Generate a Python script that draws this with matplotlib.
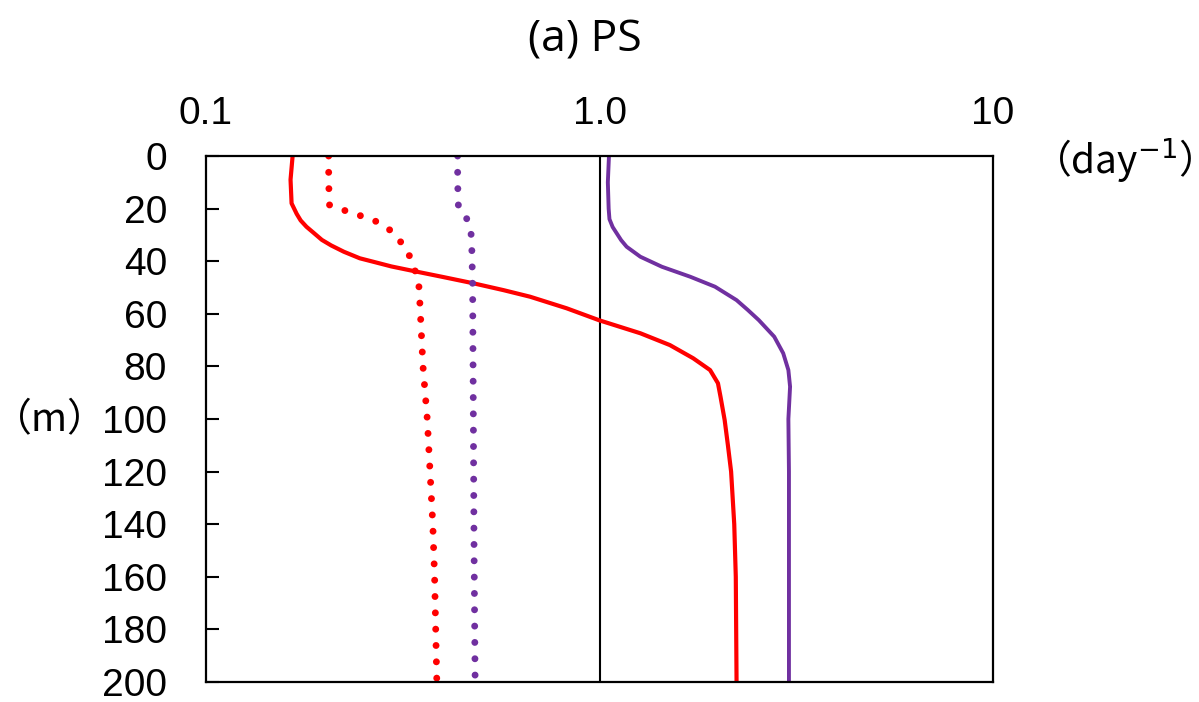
import matplotlib
matplotlib.use("Agg")
import matplotlib.pyplot as plt

# depth (m) and rate (day^-1) for each profile
red_solid_depth = [0, 9, 18, 22, 24.5, 26.9, 29, 31.9, 34, 36.4, 38.9, 40.2, 42, 43.7, 46, 48.4, 51, 53.5, 57.9,
                   62.5, 67.4, 71.9, 76.9, 81.4, 86.4, 91.5, 100.4, 110, 120, 140, 160, 200]
red_solid_rate = [0.166, 0.164, 0.165, 0.170, 0.174, 0.180, 0.187, 0.197, 0.208, 0.224, 0.246, 0.266, 0.296, 0.336, 0.400, 0.478,
                  0.570, 0.666, 0.825, 1.0, 1.27, 1.51, 1.73, 1.91, 2.00, 2.03, 2.08, 2.12, 2.16, 2.20, 2.22, 2.23]

purple_solid_depth = [0, 10, 20, 24, 27, 29.4, 32, 34.5, 38.3, 42.1, 45.9, 49.7, 54.8, 58.5, 62.4, 68.7, 75, 81.4, 87.7, 100, 120, 200]
purple_solid_rate = [1.057, 1.05, 1.055, 1.06, 1.08, 1.106, 1.135, 1.172, 1.27, 1.44, 1.70, 1.966, 2.23, 2.38, 2.54, 2.78,
                     2.93, 3.02, 3.05, 3.02, 3.03, 3.03]

red_dot_depth = [0, 10, 18.6, 20.8, 22.8, 25, 28.1, 32.8, 38, 43.7, 50, 80, 100, 120, 140, 160, 200]
red_dot_rate = [0.205, 0.205, 0.206, 0.226, 0.248, 0.272, 0.293, 0.313, 0.329, 0.340, 0.348, 0.356, 0.365, 0.371, 0.377, 0.381, 0.386]

purple_dot_depth = [0, 10, 19.3, 24.3, 30.5, 50, 100, 150, 200]
purple_dot_rate = [0.436, 0.436, 0.438, 0.462, 0.473, 0.476, 0.478, 0.480, 0.483]

xticks = [0.1, 1.0, 10]
xtick_labels = ["0.1", "1.0", "10"]
yticks = list(range(0, 201, 20))

RED = "#ff0000"
PURPLE = "#7030a0"

fig = plt.figure(figsize=(11.99, 7.02), dpi=100)
ax = fig.add_axes([206 / 1199, 1 - 682 / 702, 787 / 1199, 526 / 702])

dots = (0, (0.001, 2.35))
ax.plot(red_solid_rate, red_solid_depth, color=RED, lw=3.0, solid_joinstyle="round")
ax.plot(purple_solid_rate, purple_solid_depth, color=PURPLE, lw=2.8, solid_joinstyle="round")
ax.plot(red_dot_rate, red_dot_depth, color=RED, lw=5.0, linestyle=dots, dash_capstyle="round")
ax.plot(purple_dot_rate, purple_dot_depth, color=PURPLE, lw=5.0, linestyle=dots, dash_capstyle="round")

ax.axvline(1.0, color="black", lw=1.5, zorder=1)

ax.set_xscale("log")
ax.set_xlim(0.1, 10)
ax.set_ylim(200, 0)
ax.xaxis.tick_top()
ax.set_xticks(xticks)
ax.set_xticklabels(xtick_labels)
ax.minorticks_off()
ax.set_yticks(yticks)
ax.tick_params(axis="x", length=0, pad=17, labelsize=28)
ax.tick_params(axis="y", direction="in", length=9, width=1.5, pad=28, labelsize=28)
for lbl in ax.get_xticklabels() + ax.get_yticklabels():
    lbl.set_fontfamily("Liberation Sans")
for sp in ax.spines.values():
    sp.set_linewidth(1.6)

fig.text(585 / 1199, 1 - 40 / 702, "(a) PS", ha="center", va="center",
         fontsize=32, family=["Open Sans", "DejaVu Sans"])
fig.text(50 / 1199, 1 - 420 / 702, "（m）", ha="center", va="center",
         fontsize=28, family=["Noto Sans CJK JP", "DejaVu Sans"])
fig.text(1112 / 1199, 1 - 160 / 702, "（day$^{-1}$）", ha="center", va="center",
         fontsize=28, family=["Noto Sans CJK JP", "DejaVu Sans"])

fig.savefig("out.png", dpi=100)
